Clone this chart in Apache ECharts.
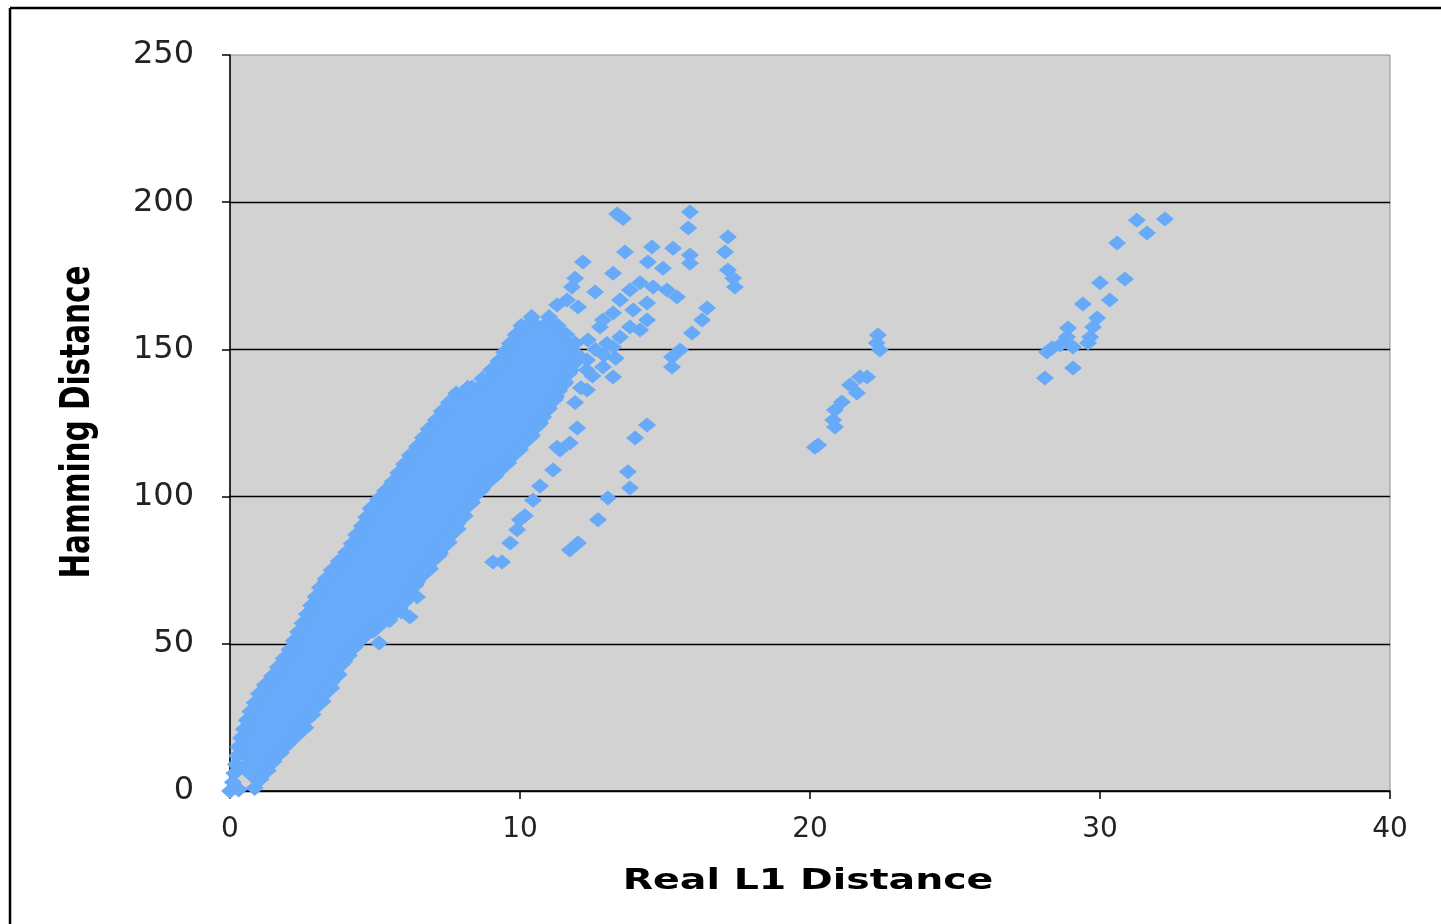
<!DOCTYPE html>
<html>
<head>
<meta charset="utf-8">
<title>Hamming vs Real L1 Distance</title>
<script src="https://cdn.jsdelivr.net/npm/echarts@6/dist/echarts.min.js"></script>
<style>
  html, body { margin: 0; padding: 0; background: #fff; }
  #chart { width: 1441px; height: 924px; }
</style>
</head>
<body>
<div id="chart"></div>
<script type="text/javascript">
// tick values
var xTicks = [0, 10, 20, 30, 40];
var yTicks = [0, 50, 100, 150, 200, 250];

// dense part of the cloud (too many points to read one by one, estimated per row)
var coreCloud = [
    [0.8, 8],
    [0.85, 12.5], [1.3, 12.5],
    [0.9, 17], [1.75, 17],
    [1.0, 21.5], [1.65, 21.5], [2.25, 21.5],
    [1.2, 26], [1.9, 26], [2.5, 26],
    [1.4, 30.5], [2.15, 30.5], [2.85, 30.5],
    [1.7, 35], [2.45, 35], [3.15, 35],
    [2.0, 39.5], [2.7, 39.5], [3.4, 39.5],
    [2.3, 44], [2.95, 44], [3.6, 44],
    [2.55, 48.5], [3.25, 48.5], [3.9, 48.5],
    [2.8, 53], [3.6, 53], [4.35, 53],
    [3.0, 57.5], [3.65, 57.5], [4.3, 57.5], [4.95, 57.5],
    [3.2, 62], [4.0, 62], [4.8, 62], [5.5, 62],
    [3.45, 66.5], [4.3, 66.5], [5.1, 66.5], [5.9, 66.5],
    [3.65, 71], [4.5, 71], [5.3, 71], [6.1, 71],
    [4.05, 75.5], [4.9, 75.5], [5.75, 75.5], [6.55, 75.5],
    [4.45, 80], [5.25, 80], [6.05, 80], [6.85, 80],
    [4.7, 84.5], [5.55, 84.5], [6.4, 84.5], [7.2, 84.5],
    [5.0, 89], [5.85, 89], [6.65, 89], [7.5, 89],
    [5.25, 93.5], [6.1, 93.5], [6.95, 93.5], [7.75, 93.5],
    [5.55, 98], [6.4, 98], [7.2, 98], [8.0, 98],
    [5.95, 102.5], [6.75, 102.5], [7.55, 102.5], [8.35, 102.5],
    [6.25, 107], [7.1, 107], [7.95, 107], [8.8, 107],
    [6.55, 111.5], [7.45, 111.5], [8.35, 111.5], [9.25, 111.5],
    [6.9, 116], [7.8, 116], [8.75, 116], [9.65, 116],
    [7.2, 120.5], [8.15, 120.5], [9.1, 120.5], [10.05, 120.5],
    [7.55, 125], [8.5, 125], [9.45, 125], [10.35, 125],
    [7.9, 129.5], [8.8, 129.5], [9.7, 129.5], [10.6, 129.5],
    [8.35, 134], [9.2, 134], [10.05, 134], [10.9, 134],
    [9.1, 138.5], [9.8, 138.5], [10.5, 138.5], [11.2, 138.5],
    [9.5, 143], [10.15, 143], [10.8, 143], [11.4, 143],
    [9.8, 147.5], [10.4, 147.5], [11.0, 147.5], [11.6, 147.5],
    [10.1, 152], [10.7, 152], [11.3, 152],
    [10.4, 156.5], [11.0, 156.5]
];

// points along the upper-left edge of the cloud
var bandLeftEdge = [
    [0.0, 0], [0.1, 3], [0.15, 6], [0.2, 9], [0.25, 12], [0.3, 15], [0.38, 18], [0.48, 21],
    [0.58, 24], [0.7, 27], [0.85, 30], [1.0, 33], [1.2, 36], [1.45, 39], [1.65, 42], [1.85, 45],
    [2.05, 48], [2.2, 51], [2.35, 54], [2.5, 57], [2.65, 60], [2.8, 63], [2.95, 66], [3.1, 69],
    [3.3, 72], [3.5, 75], [3.75, 78], [4.0, 81], [4.2, 84], [4.35, 87], [4.55, 90], [4.7, 93],
    [4.85, 96], [5.1, 99], [5.35, 102], [5.6, 105], [5.8, 108], [6.0, 111], [6.2, 114], [6.45, 117],
    [6.65, 120], [6.85, 123], [7.1, 126], [7.3, 129], [7.55, 132], [7.8, 135], [8.2, 137], [8.7, 140],
    [9.0, 143], [9.25, 146], [9.45, 149], [9.65, 152], [9.85, 155], [10.05, 158], [10.4, 161]
];

// points along the lower-right edge of the cloud
var bandRightEdge = [
    [0.3, 0.5], [0.85, 1], [1.05, 4], [1.3, 7], [1.5, 10], [1.75, 13], [2.0, 16], [2.3, 19], [2.5, 22],
    [2.7, 25], [2.9, 28], [3.1, 31], [3.3, 34], [3.5, 37], [3.7, 40], [3.85, 43], [4.1, 46],
    [4.3, 49], [4.55, 52], [4.8, 55], [5.5, 58], [5.9, 61], [6.0, 64], [6.2, 67], [6.4, 70],
    [6.6, 73], [6.85, 76], [7.0, 79], [7.2, 82], [7.45, 85], [7.65, 88], [7.85, 91], [8.0, 94],
    [8.2, 97], [8.4, 100], [8.6, 103], [8.8, 106], [9.2, 109], [9.5, 112], [9.8, 115], [10.1, 118],
    [10.4, 121], [10.6, 124], [10.8, 127], [11.0, 130], [11.2, 133], [11.35, 136], [11.55, 139],
    [11.7, 142], [11.85, 145], [12.0, 148], [11.9, 152], [11.6, 155], [11.3, 158], [11.0, 161]
];

// scattered points right of the cloud, x 5 to 18
var nearScatter = [
    [5.14, 50.3], [6.2, 59.1], [6.45, 65.9], [7.24, 80.8],
    [9.07, 77.8], [9.38, 77.8], [9.66, 84.2], [9.9, 88.7], [10.0, 92.1], [10.17, 93.5],
    [10.45, 98.8], [10.69, 103.6], [11.14, 109.0], [11.28, 116.8], [11.38, 115.8], [11.72, 118.2],
    [11.97, 123.3], [11.9, 132], [12.1, 137], [12.3, 143],
    [11.72, 81.9], [12.0, 84.2], [12.69, 92.1], [13.03, 99.5], [13.79, 102.9], [13.72, 108.4],
    [13.97, 119.9], [14.38, 124.3],
    [12.31, 136.2], [13.21, 140.6], [12.86, 144.0], [12.31, 146.4], [12.34, 153.2], [12.5, 141],
    [12.6, 150], [12.9, 148], [13.3, 147], [13.0, 152],
    [13.21, 150.8], [13.45, 154.2], [12.76, 157.6], [13.79, 157.6], [14.14, 156.6],
    [12.86, 160.0], [14.38, 160.0], [13.21, 162.4], [13.9, 163.4], [13.45, 166.8], [14.38, 165.8],
    [13.79, 170.2], [14.14, 172.6], [14.59, 171.2], [15.07, 170.2], [15.41, 167.8],
    [11.28, 165.1], [11.62, 166.8], [12.0, 164.4], [11.79, 171.2], [11.9, 174.2], [12.59, 169.5],
    [12.17, 179.7], [13.21, 175.9], [13.62, 183.1], [14.41, 179.7], [14.93, 177.6],
    [14.55, 184.8], [15.28, 184.4], [15.86, 182.1], [15.86, 179.3],
    [13.35, 196.0], [13.55, 194.5], [15.86, 196.7], [15.8, 191.2],
    [17.17, 188.2], [17.07, 183.1], [17.17, 177.0], [17.35, 174.2], [17.41, 171.2],
    [16.45, 164.1], [16.28, 160.0], [15.93, 155.6], [15.52, 149.8], [15.24, 147.4], [15.24, 144.0]
];

// group around x = 20..22.5
var midCluster = [
    [20.17, 116.8], [20.28, 117.5], [20.86, 123.6], [20.8, 126.0], [20.86, 129.4], [21.1, 132.1],
    [21.62, 135.2], [21.38, 137.9], [21.72, 140.6], [21.97, 140.6],
    [22.41, 149.8], [22.3, 152.2], [22.34, 154.9]
];

// group around x = 28..32.5
var farCluster = [
    [28.1, 140.3], [29.07, 143.7], [28.17, 149.1], [28.35, 150.5], [28.62, 151.5], [29.07, 150.8],
    [29.59, 152.2], [28.86, 154.2], [29.66, 154.2], [28.9, 157.3], [29.76, 157.6], [29.9, 160.7],
    [29.41, 165.4], [30.34, 166.8], [30.0, 172.6], [30.86, 173.9], [30.59, 186.1],
    [31.62, 189.5], [31.27, 193.9], [32.24, 194.3]
];

var BLUE = '#66aaf9';
var FONT = 'DejaVu Sans';

var myChart = echarts.init(document.getElementById('chart'));

function pointSeries(data, size) {
    return {
        type: 'scatter',
        data: data,
        symbol: 'diamond',
        symbolSize: size,
        clip: false,
        itemStyle: {color: BLUE, opacity: 1, borderWidth: 0},
        emphasis: {disabled: true},
        silent: true
    };
}

var option = {
    backgroundColor: '#ffffff',
    animation: false,
    grid: {
        left: 230, top: 55, width: 1160, height: 736,
        show: true,
        backgroundColor: '#d2d2d2',
        borderColor: '#8e8e8e',
        borderWidth: 1
    },
    xAxis: {
        type: 'value',
        min: xTicks[0],
        max: xTicks[xTicks.length - 1],
        interval: 10,
        axisLine: {show: true, onZero: false, lineStyle: {color: '#000', width: 1.5}},
        axisTick: {show: true, length: 8, lineStyle: {color: '#000', width: 1.5}},
        axisLabel: {fontSize: 28, color: '#222', fontFamily: FONT, margin: 25},
        splitLine: {show: false}
    },
    yAxis: {
        type: 'value',
        min: yTicks[0],
        max: yTicks[yTicks.length - 1],
        interval: 50,
        axisLine: {show: true, lineStyle: {color: '#000', width: 1.5}},
        axisTick: {show: true, length: 8, lineStyle: {color: '#000', width: 1.5}},
        axisLabel: {fontSize: 32, color: '#222', fontFamily: FONT, margin: 36},
        splitLine: {show: true, showMaxLine: false, lineStyle: {color: '#000', width: 1.3}}
    },
    graphic: [
        // outer frame (left and top edges)
        {type: 'line', shape: {x1: 10, y1: 8, x2: 1441, y2: 8}, style: {stroke: '#000', lineWidth: 2.5}},
        {type: 'line', shape: {x1: 10, y1: 8, x2: 10, y2: 924}, style: {stroke: '#000', lineWidth: 2.5}},
        {
            type: 'text', x: 808, y: 881, scaleX: 1.36,
            style: {text: 'Real L1 Distance', fontFamily: FONT, fontWeight: 'bold', fontSize: 29,
                fill: '#000', textAlign: 'center', textVerticalAlign: 'middle'}
        },
        {
            type: 'text', x: 79, y: 422, rotation: Math.PI / 2, scaleY: 1.36,
            style: {text: 'Hamming Distance', fontFamily: FONT, fontWeight: 'bold', fontSize: 29.5,
                fill: '#000', textAlign: 'center', textVerticalAlign: 'middle'}
        }
    ],
    series: [
        pointSeries(coreCloud, [38, 34]),
        pointSeries(bandLeftEdge, [18, 16]),
        pointSeries(bandRightEdge, [18, 16]),
        pointSeries(nearScatter, [18, 15]),
        pointSeries(midCluster, [18, 15]),
        pointSeries(farCluster, [18, 15])
    ]
};
myChart.setOption(option);
</script>
</body>
</html>
